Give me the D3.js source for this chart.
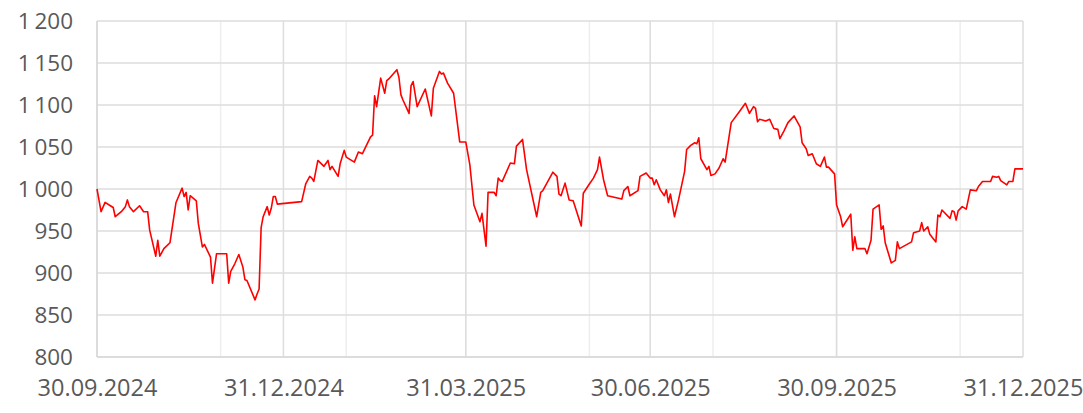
<!DOCTYPE html>
<html>
<head>
<meta charset="utf-8">
<script src="https://cdn.jsdelivr.net/npm/d3@7"></script>
<style>
  html, body { margin: 0; padding: 0; background: #ffffff; }
  svg { display: block; }
</style>
</head>
<body>
<div id="chart"></div>
<script>
// ---- DATA ----
const startDate = "2024-09-30";
const endDate = "2025-12-31";
// calendar-day offsets from startDate of each observation
const dayOffsets = [
  0,2,4,6,8,9,12,14,15,16,
  18,21,23,25,26,29,30,31,33,36,
  39,42,43,44,45,46,49,50,51,52,
  53,56,57,59,64,65,66,68,70,72,
  73,74,78,79,80,81,82,84,85,86,
  87,88,89,101,103,105,106,107,109,112,
  114,115,116,119,120,122,123,127,129,131,
  135,136,137,138,140,142,143,144,148,149,
  150,151,154,155,156,158,162,165,166,169,
  170,171,173,176,179,182,184,186,189,190,
  192,193,196,197,198,199,200,204,206,207,
  210,212,217,219,220,225,227,228,229,231,
  233,235,239,240,243,245,247,248,250,252,
  259,260,262,263,267,268,271,273,274,275,
  276,278,280,281,282,283,285,287,290,291,
  293,295,296,297,298,301,302,303,305,307,
  309,310,313,317,320,322,324,325,326,327,
  330,332,334,336,337,339,341,344,347,348,
  350,351,353,355,357,359,360,361,364,365,
  367,368,372,373,374,375,379,380,382,383,
  386,387,388,389,390,392,394,395,396,402,
  403,406,407,408,410,411,414,415,416,417,
  421,422,423,424,425,427,429,431,434,435,
  437,441,442,444,445,446,449,450,452,453,
  457
];
const values = [
  1000,973,984,981,978,967,973,979,987,979,
  973,980,973,973,951,920,939,920,929,936,
  984,1001,991,996,975,992,986,959,945,931,
  934,919,888,923,923,888,902,911,922,907,
  892,891,868,875,881,954,967,979,969,977,
  991,991,982,985,1006,1015,1013,1009,1034,1027,
  1034,1023,1027,1015,1030,1046,1038,1032,1044,1042,
  1062,1064,1111,1098,1132,1114,1129,1131,1142,1133,
  1112,1106,1090,1123,1128,1098,1119,1087,1120,1140,
  1137,1138,1126,1114,1056,1056,1029,981,961,971,
  932,996,996,992,1013,1010,1009,1031,1030,1051,
  1059,1023,967,996,998,1020,1015,994,992,1007,
  987,986,956,995,1006,1013,1023,1038,1011,992,
  988,998,1003,992,998,1015,1019,1013,1013,1005,
  1011,999,992,999,984,994,967,987,1021,1047,
  1052,1055,1054,1061,1036,1023,1027,1016,1018,1025,
  1036,1032,1079,1092,1102,1090,1098,1096,1080,1083,
  1081,1083,1072,1071,1060,1069,1079,1087,1074,1055,
  1048,1040,1042,1030,1027,1038,1026,1026,1018,981,
  967,955,970,927,943,929,929,923,939,976,
  981,952,956,936,928,912,915,937,929,937,
  948,950,960,950,955,946,937,969,967,975,
  965,974,973,963,974,979,976,999,998,1003,
  1009,1009,1015,1014,1015,1010,1005,1009,1009,1024,
  1024
];
const yTicks = [800, 850, 900, 950, 1000, 1050, 1100, 1150, 1200];
const xLabelDates = ["30.09.2024","31.12.2024","31.03.2025","30.06.2025","30.09.2025","31.12.2025"];
const xMinorGridDates = ["30.11.2024","31.01.2025","31.03.2025","31.05.2025","31.07.2025","30.09.2025","30.11.2025"];

// ---- CHART ----
const W = 1083, H = 413;
const margin = { left: 97, right: 60, top: 21, bottom: 56 };

const parseISO = d3.utcParse("%Y-%m-%d");
const parseRU = d3.utcParse("%d.%m.%Y");
const fmtRU = d3.utcFormat("%d.%m.%Y");
const t0 = parseISO(startDate);
const t1 = parseISO(endDate);

const data = dayOffsets.map((d, i) => ({ date: d3.utcDay.offset(t0, d), value: values[i] }));

const x = d3.scaleUtc().domain([t0, t1]).range([margin.left, W - margin.right]);
const y = d3.scaleLinear().domain([800, 1200]).range([H - margin.bottom, margin.top]);

const locale = d3.formatLocale({ decimal: ",", thousands: "\u2009", grouping: [3], currency: ["", ""] });
const yFmt = locale.format(",d");

const svg = d3.select("#chart").append("svg")
  .attr("width", W).attr("height", H)
  .style("font-family", "'Open Sans', 'DejaVu Sans', sans-serif");

svg.append("rect").attr("width", W).attr("height", H).attr("fill", "#ffffff");

const x0 = x.range()[0], x1 = x.range()[1];
const yTop = y(1200), yBot = y(800);

// minor vertical grid
svg.append("g")
  .selectAll("line").data(xMinorGridDates.map(parseRU)).join("line")
  .attr("x1", d => x(d)).attr("x2", d => x(d))
  .attr("y1", yTop).attr("y2", yBot)
  .attr("stroke", "#eeeeee").attr("stroke-width", 1.5);

// horizontal grid
svg.append("g")
  .selectAll("line").data(yTicks).join("line")
  .attr("x1", x0).attr("x2", x1)
  .attr("y1", d => y(d)).attr("y2", d => y(d))
  .attr("stroke", "#dddddd").attr("stroke-width", 1.5);

// major vertical grid
svg.append("g")
  .selectAll("line").data(xLabelDates.map(parseRU)).join("line")
  .attr("x1", d => x(d)).attr("x2", d => x(d))
  .attr("y1", yTop).attr("y2", yBot)
  .attr("stroke", "#dddddd").attr("stroke-width", 1.5);

// Y axis labels
const yAxis = d3.axisLeft(y).tickValues(yTicks).tickFormat(yFmt).tickSize(0).tickPadding(24);
const gy = svg.append("g").attr("transform", `translate(${x0},0)`).call(yAxis);
gy.select(".domain").remove();
gy.selectAll("text").attr("fill", "#595959").style("font-size", "22.5px")
  .style("font-family", "'Open Sans', sans-serif");

// X axis labels
const xAxis = d3.axisBottom(x).tickValues(xLabelDates.map(parseRU)).tickFormat(fmtRU).tickSize(0).tickPadding(22);
const gx = svg.append("g").attr("transform", `translate(0,${yBot})`).call(xAxis);
gx.select(".domain").remove();
gx.selectAll("text").attr("fill", "#595959").style("font-size", "23.5px")
  .style("font-family", "'Open Sans', sans-serif");

// axis lines
svg.append("line").attr("x1", x0).attr("x2", x0).attr("y1", yTop).attr("y2", yBot)
  .attr("stroke", "#d9d9d9").attr("stroke-width", 1.5);
svg.append("line").attr("x1", x0).attr("x2", x1).attr("y1", yBot).attr("y2", yBot)
  .attr("stroke", "#d9d9d9").attr("stroke-width", 1.5);

// series line
const line = d3.line().x(d => x(d.date)).y(d => y(d.value));
svg.append("path").datum(data)
  .attr("d", line)
  .attr("fill", "none")
  .attr("stroke", "#ff0000")
  .attr("stroke-width", 1.6)
  .attr("stroke-linejoin", "round");
</script>
</body>
</html>
